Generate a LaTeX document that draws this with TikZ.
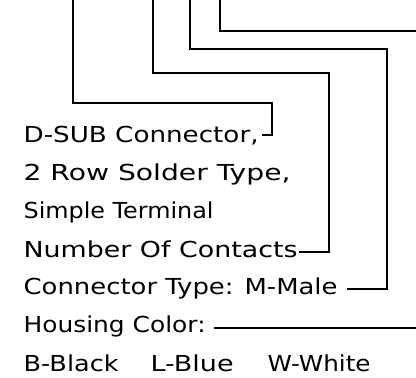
\documentclass[tikz,border=0pt]{standalone}
\usepackage{fontspec}
\newfontfamily\cadfont{DejaVu Sans}
% stretch a label sideways to the width it has in the drawing
\newsavebox\lblbox
\newcommand{\wide}[2]{\sbox\lblbox{#2}\scalebox{\fpeval{#1pt/\wd\lblbox}}[1]{\usebox\lblbox}}
\begin{document}
\begin{tikzpicture}[x=1pt,y=-1pt,line width=1.2pt,
  lbl/.style={anchor=base west,inner sep=0pt,font=\cadfont\fontsize{22}{22}\selectfont}]
\useasboundingbox (0,0) rectangle (416,378);
% the code text, one line each
\foreach \n/\y/\w/\t in {dsub/142/235/{D-SUB Connector,},rows/180/267/{2 Row Solder Type,},
  term/218/190/{Simple Terminal},pins/257/274/{Number Of Contacts},
  kind/294/314/{Connector Type: M-Male},hous/332/182/{Housing Color:}}
  \node[lbl] (\n) at (23,\y) {\wide{\w}{\t}};
\node[lbl] (cols) at (23,371) {\wide{95}{B-Black}\hspace{32pt}\wide{83}{L-Blue}\hspace{34pt}\wide{103}{W-White}};
% leaders leave the top edge here
\coordinate (topa) at (73,0);
\coordinate (topb) at (153,0);
\coordinate (topc) at (190,0);
\coordinate (topd) at (220,0);
% and end here
\coordinate (enda) at (262,135);
\coordinate (endb) at (299,252);
\coordinate (endc) at (347,289);
\coordinate (endd) at (416,31);
\coordinate (ende) at (214,328);
\coordinate (rime) at (416,328);
\draw (topa) |- (272,103) |- (enda);
\draw (topb) |- (329,73) |- (endb);
\draw (topc) |- (387,49) |- (endc);
\draw (topd) |- (endd);
\draw (ende) -- (rime);
\end{tikzpicture}
\end{document}
